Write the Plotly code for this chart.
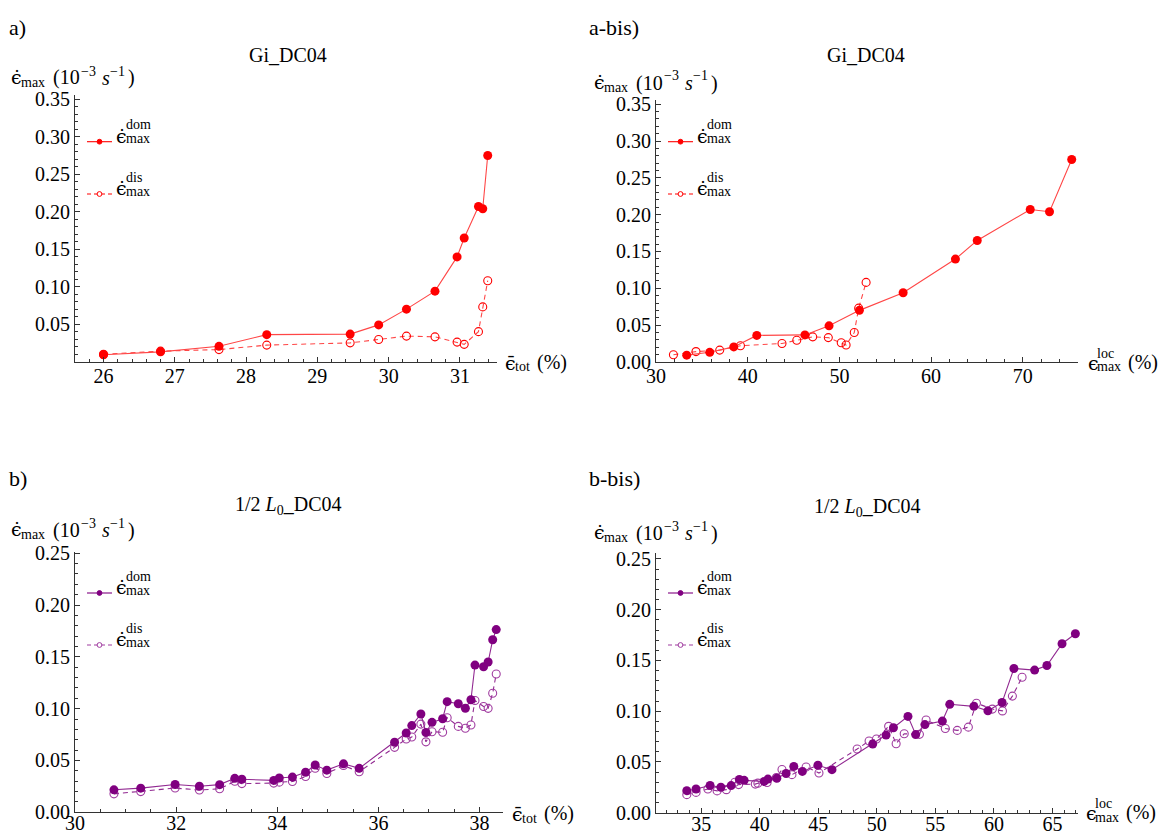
import plotly.graph_objects as go

W, H = 1158, 834

# ---------------- data ----------------
# Panel a / a-bis  (Gi_DC04)
a_eps_tot = [26.0, 26.80, 27.62, 28.29, 29.46, 29.86, 30.25, 30.65, 30.96, 31.06, 31.26, 31.32, 31.39]
a_dom = [0.0092, 0.013, 0.0204, 0.036, 0.0367, 0.049, 0.070, 0.094, 0.1397, 0.165, 0.207, 0.204, 0.275]
a_dis = [0.0097, 0.014, 0.016, 0.022, 0.025, 0.0294, 0.034, 0.033, 0.026, 0.023, 0.040, 0.073, 0.108]
abis_loc_dom = [33.35, 35.86, 38.48, 40.99, 46.24, 48.87, 52.18, 56.95, 62.65, 65.03, 70.81, 72.91, 75.33]
abis_loc_dis = [31.90, 34.36, 36.95, 39.21, 43.74, 45.35, 47.09, 48.79, 50.20, 50.73, 51.62, 52.10, 52.91]

# Panel b / b-bis  (1/2 L0_DC04)
b_eps_tot = [30.77, 31.30, 31.98, 32.46, 32.86, 33.16, 33.30, 33.93, 34.04, 34.30, 34.56, 34.75, 34.98,
             35.31, 35.62, 36.32, 36.55, 36.66, 36.84, 36.94, 37.06, 37.27, 37.36, 37.58, 37.72, 37.83,
             37.91, 38.08, 38.17, 38.26, 38.33]
b_dom = [0.0217, 0.0233, 0.0268, 0.0251, 0.0267, 0.0328, 0.0319, 0.0308, 0.0331, 0.0340, 0.0386, 0.0456,
         0.0407, 0.0468, 0.0424, 0.0676, 0.0765, 0.0837, 0.0949, 0.0770, 0.0868, 0.0903, 0.1068, 0.1048,
         0.1004, 0.1086, 0.1421, 0.1405, 0.1450, 0.1665, 0.1763]
b_dis = [0.0178, 0.0200, 0.0234, 0.0215, 0.0227, 0.0300, 0.0277, 0.0282, 0.0291, 0.0297, 0.0346, 0.0425,
         0.0375, 0.0451, 0.0391, 0.0627, 0.0707, 0.0726, 0.0851, 0.0680, 0.0778, 0.0772, 0.0913, 0.0829,
         0.0811, 0.0843, 0.1079, 0.1021, 0.1003, 0.1149, 0.1335]
bbis_loc_dom = [33.77, 34.56, 35.76, 36.68, 37.56, 38.26, 38.67, 40.38, 40.70, 41.46, 42.25, 42.91, 43.64,
                44.97, 46.17, 49.65, 50.79, 51.42, 52.66, 53.32, 54.11, 55.60, 56.23, 58.29, 59.49, 60.70,
                61.71, 63.48, 64.53, 65.82, 66.96]
bbis_loc_dis = [33.77, 34.56, 35.57, 36.36, 37.15, 37.88, 38.20, 39.62, 39.84, 40.63, 41.42, 41.90, 42.75,
                43.96, 45.06, 48.32, 49.34, 49.97, 51.01, 51.65, 52.34, 53.64, 54.21, 55.85, 56.87, 57.82,
                58.51, 59.87, 60.73, 61.58, 62.41]

# tick labels
a_xticks = [26, 27, 28, 29, 30, 31]
a_yticks = [0.05, 0.10, 0.15, 0.20, 0.25, 0.30, 0.35]
abis_xticks = [30, 40, 50, 60, 70]
abis_yticks = [0.00, 0.05, 0.10, 0.15, 0.20, 0.25, 0.30, 0.35]
b_xticks = [30, 32, 34, 36, 38]
b_yticks = [0.00, 0.05, 0.10, 0.15, 0.20, 0.25]
bbis_xticks = [35, 40, 45, 50, 55, 60, 65]
bbis_yticks = [0.00, 0.05, 0.10, 0.15, 0.20, 0.25]

# ---------------- style ----------------
FONT = "Liberation Serif"
SYM = "DejaVu Serif"
AX = "#333333"
RED = "rgb(255,0,0)"
RED_LINE = "rgb(255,70,70)"
PUR = "rgb(128,0,128)"
PUR_LINE = "rgb(145,40,145)"
PUR_DIS = "rgb(160,60,160)"


def px(x):
    return x / W


def py(y):
    return 1 - y / H


panels = [
    dict(k="", xdom=(75, 497), ydom=(361.6, 95), xr=(25.60, 31.52), yr=(0, 0.3558),
         xt=a_xticks, yt=a_yticks, xminor=0.2, col=RED, lcol=RED_LINE, dcol=RED, so=-4,
         xdom_d=a_eps_tot, xdis_d=a_eps_tot, ydom_d=a_dom, ydis_d=a_dis),
    dict(k="2", xdom=(656, 1078.3), ydom=(361.9, 100), xr=(30, 76.05), yr=(0, 0.3558),
         xt=abis_xticks, yt=abis_yticks, xminor=2, col=RED, lcol=RED_LINE, dcol=RED, so=-4,
         xdom_d=abis_loc_dom, xdis_d=abis_loc_dis, ydom_d=a_dom, ydis_d=a_dis),
    dict(k="3", xdom=(75, 503.3), ydom=(812.3, 551.7), xr=(30, 38.47), yr=(0, 0.2515),
         xt=b_xticks, yt=b_yticks, xminor=0.5, col=PUR, lcol=PUR_LINE, dcol=PUR_DIS, so=-7,
         xdom_d=b_eps_tot, xdis_d=b_eps_tot, ydom_d=b_dom, ydis_d=b_dis),
    dict(k="4", xdom=(656, 1078.3), ydom=(812.7, 552.7), xr=(31.14, 67.21), yr=(0, 0.2562),
         xt=bbis_xticks, yt=bbis_yticks, xminor=1, col=PUR, lcol=PUR_LINE, dcol=PUR_DIS, so=-7,
         xdom_d=bbis_loc_dom, xdis_d=bbis_loc_dis, ydom_d=b_dom, ydis_d=b_dis),
]

fig = go.Figure()
layout = dict(width=W, height=H, margin=dict(l=0, r=0, t=0, b=0, pad=0, autoexpand=False),
              paper_bgcolor="white", plot_bgcolor="white", showlegend=False)

tickfont = dict(family=FONT, size=20, color="black")

for p in panels:
    k = p["k"]
    xa = "x" + k
    ya = "y" + k
    fig.add_trace(go.Scatter(
        x=p["xdis_d"], y=p["ydis_d"], xaxis=xa, yaxis=ya, mode="lines+markers",
        line=dict(color=p["lcol"], width=1.1, dash="5px,4px"),
        marker=dict(symbol="circle-open", size=8, color=p["dcol"], line=dict(width=1.1)),
        cliponaxis=False))
    fig.add_trace(go.Scatter(
        x=p["xdom_d"], y=p["ydom_d"], xaxis=xa, yaxis=ya, mode="lines+markers",
        line=dict(color=p["lcol"], width=1.1),
        marker=dict(symbol="circle", size=9, color=p["col"]),
        cliponaxis=False))
    layout["xaxis" + k] = dict(
        domain=[px(p["xdom"][0]), px(p["xdom"][1])], range=list(p["xr"]), anchor=ya,
        showline=True, linecolor=AX, linewidth=1, ticks="inside", ticklen=5, tickwidth=1,
        tickcolor=AX, tickvals=p["xt"], ticktext=[str(v) for v in p["xt"]],
        minor=dict(ticks="inside", ticklen=3, tickwidth=1, tickcolor=AX, dtick=p["xminor"], tick0=0,
                   showgrid=False),
        showgrid=False, zeroline=False, tickfont=tickfont, automargin=False,
        ticklabelstandoff=p["so"])
    layout["yaxis" + k] = dict(
        domain=[py(p["ydom"][0]), py(p["ydom"][1])], range=list(p["yr"]), anchor=xa,
        showline=True, linecolor=AX, linewidth=1, ticks="inside", ticklen=5, tickwidth=1,
        tickcolor=AX, tickvals=p["yt"], ticktext=["%.2f" % v for v in p["yt"]],
        minor=dict(ticks="inside", ticklen=3, tickwidth=1, tickcolor=AX, dtick=0.01, tick0=0,
                   showgrid=False),
        showgrid=False, zeroline=False, tickfont=tickfont, automargin=False)

ann = []
shapes = []


def text(x, y, s, size=20, xanchor="left", yanchor="middle", family=FONT):
    ann.append(dict(x=px(x), y=py(y), xref="paper", yref="paper", text=s, showarrow=False,
                    xanchor=xanchor, yanchor=yanchor, borderpad=0,
                    font=dict(family=family, size=size, color="black")))


# panel letters
text(8, 27, "a)", 22)
text(588, 27, "a-bis)", 22)
text(8, 478, "b)", 22)
text(588, 478, "b-bis)", 22)

# titles
text(288, 55, "Gi_DC04", 20, "center")
text(866, 55, "Gi_DC04", 20, "center")
text(288, 505, "1/2 <i>L</i><sub>0</sub>_DC04", 20, "center")
text(867, 507, "1/2 <i>L</i><sub>0</sub>_DC04", 20, "center")


# y-axis titles:  eps-dot_max (10^-3 s^-1)
def ylabel(x0, yc):
    text(x0, yc - 1, "\u03f5\u0307", 19, family=SYM)
    text(x0 + 10, yc + 4, "max", 14)
    text(x0 + 42, yc, "(10", 20)
    text(x0 + 70, yc - 7, "\u22123", 14)
    text(x0 + 91, yc, "<i>s</i>", 20)
    text(x0 + 99, yc - 7, "\u22121", 14)
    text(x0 + 117, yc, ")", 20)


ylabel(10, 78)
ylabel(593, 83)
ylabel(10, 530)
ylabel(593, 533)


# x-axis titles
def tot_label(x0, yax):
    text(x0, yax + 1, "\u03f5\u0304", 19, family=SYM)
    text(x0 + 10, yax + 5, "tot", 14)
    text(x0 + 32, yax, "(%)", 20)


tot_label(504, 362)
tot_label(511, 813)


def loc_label(x0, yax):
    text(x0, yax + 1, "\u03f5", 19, family=SYM)
    text(x0 + 9, yax - 9, "loc", 14)
    text(x0 + 9, yax + 5, "max", 14)
    text(x0 + 40, yax, "(%)", 20)


loc_label(1087, 362)
loc_label(1085, 812)


# legends
def legend(x0, y_dom, y_dis, col, dcol):
    for (yy, dash, sup, mcol, filled) in [(y_dom, "solid", "dom", col, True),
                                           (y_dis, "dash", "dis", dcol, False)]:
        shapes.append(dict(type="line", xref="paper", yref="paper", x0=px(x0), x1=px(x0 + 25),
                           y0=py(yy), y1=py(yy), line=dict(color=mcol, width=1.1,
                                                             dash="4px,3px" if dash == "dash" else "solid")))
        r = 2.4
        shapes.append(dict(type="circle", xref="paper", yref="paper",
                           x0=px(x0 + 12.5 - r), x1=px(x0 + 12.5 + r), y0=py(yy + r), y1=py(yy - r),
                           line=dict(color=mcol, width=1), fillcolor=mcol if filled else "white"))
        text(x0 + 28, yy - 6, "\u03f5\u0307", 19, family=SYM)
        text(x0 + 38, yy - 17, sup, 14)
        text(x0 + 38, yy - 3, "max", 14)


legend(87, 141.7, 194, RED, RED)
legend(668, 141.7, 194, RED, RED)
legend(87, 593, 645, PUR, PUR_DIS)
legend(668, 593, 645, PUR, PUR_DIS)

layout["annotations"] = ann
layout["shapes"] = shapes
fig.update_layout(**layout)
fig.write_html("out.html", config={"displayModeBar": False},
               post_script="document.body.style.margin='0px';document.body.style.overflow='hidden';")
